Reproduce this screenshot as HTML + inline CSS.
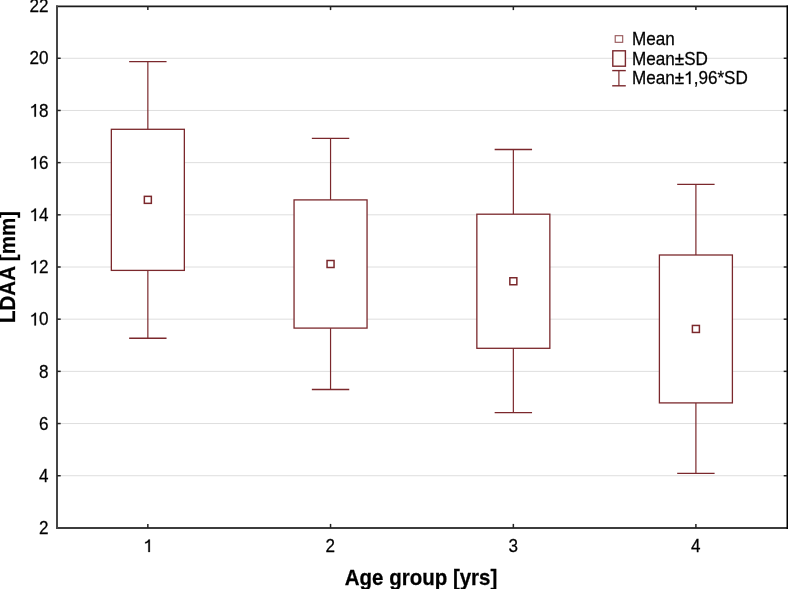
<!DOCTYPE html>
<html><head><meta charset="utf-8"><style>
html,body{margin:0;padding:0;background:#fff;}
body{width:788px;height:589px;overflow:hidden;position:relative;}
svg{position:absolute;left:0;top:0;will-change:transform;}
text{font-family:"Liberation Sans",sans-serif;fill:#000;stroke:#000;stroke-width:0.25px;}
.h{fill:none;stroke:none;}
.one{fill:#000;stroke:#000;stroke-width:15px;}
</style></head><body>
<svg width="788" height="589" viewBox="0 0 788 589">
<line x1="57.2" y1="475.72" x2="787.2" y2="475.72" stroke="#dedede" stroke-width="1"/>
<line x1="57.2" y1="423.54" x2="787.2" y2="423.54" stroke="#dedede" stroke-width="1"/>
<line x1="57.2" y1="371.36" x2="787.2" y2="371.36" stroke="#dedede" stroke-width="1"/>
<line x1="57.2" y1="319.18" x2="787.2" y2="319.18" stroke="#dedede" stroke-width="1"/>
<line x1="57.2" y1="267.00" x2="787.2" y2="267.00" stroke="#dedede" stroke-width="1"/>
<line x1="57.2" y1="214.82" x2="787.2" y2="214.82" stroke="#dedede" stroke-width="1"/>
<line x1="57.2" y1="162.64" x2="787.2" y2="162.64" stroke="#dedede" stroke-width="1"/>
<line x1="57.2" y1="110.46" x2="787.2" y2="110.46" stroke="#dedede" stroke-width="1"/>
<line x1="57.2" y1="58.28" x2="787.2" y2="58.28" stroke="#dedede" stroke-width="1"/>
<line x1="147.85" y1="61.60" x2="147.85" y2="129.30" stroke="#7b282c" stroke-width="1.2"/>
<line x1="147.85" y1="270.40" x2="147.85" y2="338.20" stroke="#7b282c" stroke-width="1.2"/>
<line x1="129.15" y1="61.60" x2="166.55" y2="61.60" stroke="#7b282c" stroke-width="1.4"/>
<line x1="129.15" y1="338.20" x2="166.55" y2="338.20" stroke="#7b282c" stroke-width="1.4"/>
<rect x="111.35" y="129.30" width="73.00" height="141.10" fill="#fff" stroke="#7b282c" stroke-width="1.3"/>
<rect x="144.35" y="196.35" width="7" height="7" fill="#fff" stroke="#7b282c" stroke-width="1.5"/>
<line x1="330.55" y1="138.40" x2="330.55" y2="199.90" stroke="#7b282c" stroke-width="1.2"/>
<line x1="330.55" y1="328.10" x2="330.55" y2="389.50" stroke="#7b282c" stroke-width="1.2"/>
<line x1="311.85" y1="138.40" x2="349.25" y2="138.40" stroke="#7b282c" stroke-width="1.4"/>
<line x1="311.85" y1="389.50" x2="349.25" y2="389.50" stroke="#7b282c" stroke-width="1.4"/>
<rect x="294.05" y="199.90" width="73.00" height="128.20" fill="#fff" stroke="#7b282c" stroke-width="1.3"/>
<rect x="327.05" y="260.50" width="7" height="7" fill="#fff" stroke="#7b282c" stroke-width="1.5"/>
<line x1="513.35" y1="149.50" x2="513.35" y2="214.20" stroke="#7b282c" stroke-width="1.2"/>
<line x1="513.35" y1="348.30" x2="513.35" y2="412.60" stroke="#7b282c" stroke-width="1.2"/>
<line x1="494.65" y1="149.50" x2="532.05" y2="149.50" stroke="#7b282c" stroke-width="1.4"/>
<line x1="494.65" y1="412.60" x2="532.05" y2="412.60" stroke="#7b282c" stroke-width="1.4"/>
<rect x="476.85" y="214.20" width="73.00" height="134.10" fill="#fff" stroke="#7b282c" stroke-width="1.3"/>
<rect x="509.85" y="277.75" width="7" height="7" fill="#fff" stroke="#7b282c" stroke-width="1.5"/>
<line x1="695.90" y1="184.40" x2="695.90" y2="255.00" stroke="#7b282c" stroke-width="1.2"/>
<line x1="695.90" y1="402.90" x2="695.90" y2="473.40" stroke="#7b282c" stroke-width="1.2"/>
<line x1="677.20" y1="184.40" x2="714.60" y2="184.40" stroke="#7b282c" stroke-width="1.4"/>
<line x1="677.20" y1="473.40" x2="714.60" y2="473.40" stroke="#7b282c" stroke-width="1.4"/>
<rect x="659.40" y="255.00" width="73.00" height="147.90" fill="#fff" stroke="#7b282c" stroke-width="1.3"/>
<rect x="692.40" y="325.45" width="7" height="7" fill="#fff" stroke="#7b282c" stroke-width="1.5"/>
<line x1="56" y1="6.35" x2="788" y2="6.35" stroke="#1c1c1c" stroke-width="1.6"/>
<line x1="56" y1="528" x2="788" y2="528" stroke="#3c3c3c" stroke-width="2"/>
<line x1="57" y1="5.6" x2="57" y2="529" stroke="#454545" stroke-width="2"/>
<line x1="787.25" y1="5.6" x2="787.25" y2="529" stroke="#000" stroke-width="1.5"/>
<line x1="57.2" y1="475.72" x2="60.7" y2="475.72" stroke="#222" stroke-width="1.5"/>
<line x1="783.7" y1="475.72" x2="787.2" y2="475.72" stroke="#222" stroke-width="1.5"/>
<line x1="57.2" y1="423.54" x2="60.7" y2="423.54" stroke="#222" stroke-width="1.5"/>
<line x1="783.7" y1="423.54" x2="787.2" y2="423.54" stroke="#222" stroke-width="1.5"/>
<line x1="57.2" y1="371.36" x2="60.7" y2="371.36" stroke="#222" stroke-width="1.5"/>
<line x1="783.7" y1="371.36" x2="787.2" y2="371.36" stroke="#222" stroke-width="1.5"/>
<line x1="57.2" y1="319.18" x2="60.7" y2="319.18" stroke="#222" stroke-width="1.5"/>
<line x1="783.7" y1="319.18" x2="787.2" y2="319.18" stroke="#222" stroke-width="1.5"/>
<line x1="57.2" y1="267.00" x2="60.7" y2="267.00" stroke="#222" stroke-width="1.5"/>
<line x1="783.7" y1="267.00" x2="787.2" y2="267.00" stroke="#222" stroke-width="1.5"/>
<line x1="57.2" y1="214.82" x2="60.7" y2="214.82" stroke="#222" stroke-width="1.5"/>
<line x1="783.7" y1="214.82" x2="787.2" y2="214.82" stroke="#222" stroke-width="1.5"/>
<line x1="57.2" y1="162.64" x2="60.7" y2="162.64" stroke="#222" stroke-width="1.5"/>
<line x1="783.7" y1="162.64" x2="787.2" y2="162.64" stroke="#222" stroke-width="1.5"/>
<line x1="57.2" y1="110.46" x2="60.7" y2="110.46" stroke="#222" stroke-width="1.5"/>
<line x1="783.7" y1="110.46" x2="787.2" y2="110.46" stroke="#222" stroke-width="1.5"/>
<line x1="57.2" y1="58.28" x2="60.7" y2="58.28" stroke="#222" stroke-width="1.5"/>
<line x1="783.7" y1="58.28" x2="787.2" y2="58.28" stroke="#222" stroke-width="1.5"/>
<line x1="147.85" y1="6.1" x2="147.85" y2="10.1" stroke="#222" stroke-width="1.5"/>
<line x1="147.85" y1="523.9" x2="147.85" y2="527.9" stroke="#222" stroke-width="1.5"/>
<line x1="330.55" y1="6.1" x2="330.55" y2="10.1" stroke="#222" stroke-width="1.5"/>
<line x1="330.55" y1="523.9" x2="330.55" y2="527.9" stroke="#222" stroke-width="1.5"/>
<line x1="513.35" y1="6.1" x2="513.35" y2="10.1" stroke="#222" stroke-width="1.5"/>
<line x1="513.35" y1="523.9" x2="513.35" y2="527.9" stroke="#222" stroke-width="1.5"/>
<line x1="695.90" y1="6.1" x2="695.90" y2="10.1" stroke="#222" stroke-width="1.5"/>
<line x1="695.90" y1="523.9" x2="695.90" y2="527.9" stroke="#222" stroke-width="1.5"/>
<g id="y2" transform="translate(48.60,534.10) scale(1,1.035)"><text x="0" y="0" font-size="17.1" text-anchor="end">2</text></g>
<g id="y4" transform="translate(48.60,481.92) scale(1,1.035)"><text x="0" y="0" font-size="17.1" text-anchor="end">4</text></g>
<g id="y6" transform="translate(48.60,429.74) scale(1,1.035)"><text x="0" y="0" font-size="17.1" text-anchor="end">6</text></g>
<g id="y8" transform="translate(48.60,377.56) scale(1,1.035)"><text x="0" y="0" font-size="17.1" text-anchor="end">8</text></g>
<g id="y10" transform="translate(48.60,325.38) scale(1,1.035)"><text x="0" y="0" font-size="17.1" text-anchor="end"><tspan class="h">1</tspan>0</text><path class="one" transform="translate(-19.01,0.00) scale(0.01710,-0.01710)" d="M283 0H372V709H300C272 642 205 585 100 565V482C185 500 240 530 283 568Z"/></g>
<g id="y12" transform="translate(48.60,273.20) scale(1,1.035)"><text x="0" y="0" font-size="17.1" text-anchor="end"><tspan class="h">1</tspan>2</text><path class="one" transform="translate(-19.01,0.00) scale(0.01710,-0.01710)" d="M283 0H372V709H300C272 642 205 585 100 565V482C185 500 240 530 283 568Z"/></g>
<g id="y14" transform="translate(48.60,221.02) scale(1,1.035)"><text x="0" y="0" font-size="17.1" text-anchor="end"><tspan class="h">1</tspan>4</text><path class="one" transform="translate(-19.01,0.00) scale(0.01710,-0.01710)" d="M283 0H372V709H300C272 642 205 585 100 565V482C185 500 240 530 283 568Z"/></g>
<g id="y16" transform="translate(48.60,168.84) scale(1,1.035)"><text x="0" y="0" font-size="17.1" text-anchor="end"><tspan class="h">1</tspan>6</text><path class="one" transform="translate(-19.01,0.00) scale(0.01710,-0.01710)" d="M283 0H372V709H300C272 642 205 585 100 565V482C185 500 240 530 283 568Z"/></g>
<g id="y18" transform="translate(48.60,116.66) scale(1,1.035)"><text x="0" y="0" font-size="17.1" text-anchor="end"><tspan class="h">1</tspan>8</text><path class="one" transform="translate(-19.01,0.00) scale(0.01710,-0.01710)" d="M283 0H372V709H300C272 642 205 585 100 565V482C185 500 240 530 283 568Z"/></g>
<g id="y20" transform="translate(48.60,64.48) scale(1,1.035)"><text x="0" y="0" font-size="17.1" text-anchor="end">20</text></g>
<g id="y22" transform="translate(48.60,12.30) scale(1,1.035)"><text x="0" y="0" font-size="17.1" text-anchor="end">22</text></g>
<g id="x1" transform="translate(148.25,552.00) scale(1,1.035)"><text x="0" y="0" font-size="17.1" text-anchor="middle"><tspan class="h">1</tspan></text><path class="one" transform="translate(-4.75,0.00) scale(0.01710,-0.01710)" d="M283 0H372V709H300C272 642 205 585 100 565V482C185 500 240 530 283 568Z"/></g>
<g id="x2" transform="translate(330.35,552.00) scale(1,1.035)"><text x="0" y="0" font-size="17.1" text-anchor="middle">2</text></g>
<g id="x3" transform="translate(513.15,552.00) scale(1,1.035)"><text x="0" y="0" font-size="17.1" text-anchor="middle">3</text></g>
<g id="x4" transform="translate(695.70,552.00) scale(1,1.035)"><text x="0" y="0" font-size="17.1" text-anchor="middle">4</text></g>
<text transform="translate(421.05,584.6) scale(1,1.05)" x="0" y="0" font-size="20.5" font-weight="bold" text-anchor="middle">Age group [yrs]</text>
<text transform="translate(14.6,267) rotate(-90) scale(1,1.05)" x="0" y="0" font-size="20.5" font-weight="bold" text-anchor="middle">LDAA [mm]</text>
<rect x="615.2" y="35.7" width="7.5" height="6.6" fill="#fff" stroke="#7b282c" stroke-width="1.1" stroke-opacity="0.8"/>
<g id="l1" transform="translate(632.00,44.80) scale(1,1.035)"><text x="0" y="0" font-size="17.1">Mean</text></g>
<rect x="612.8" y="50.8" width="12.6" height="15.4" fill="#fffdfa" stroke="#7b282c" stroke-width="1.4"/>
<g id="l2" transform="translate(632.00,64.60) scale(1,1.035)"><text x="0" y="0" font-size="17.1">Mean±SD</text></g>
<line x1="612.2" y1="70.6" x2="625.8" y2="70.6" stroke="#7b282c" stroke-width="1.4"/>
<line x1="612.2" y1="85.8" x2="625.8" y2="85.8" stroke="#7b282c" stroke-width="1.4"/>
<line x1="618.9" y1="70.6" x2="618.9" y2="85.8" stroke="#7b282c" stroke-width="1.2"/>
<g id="l3" transform="translate(632.00,84.00) scale(1,1.035)"><text x="0" y="0" font-size="17.1">Mean±<tspan class="h">1</tspan>,96*SD</text><path class="one" transform="translate(52.11,0.00) scale(0.01710,-0.01710)" d="M283 0H372V709H300C272 642 205 585 100 565V482C185 500 240 530 283 568Z"/></g>
</svg>
</body></html>
